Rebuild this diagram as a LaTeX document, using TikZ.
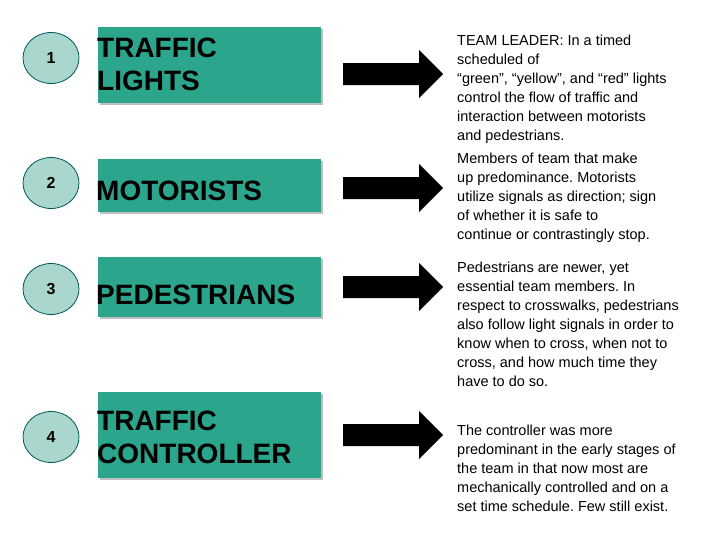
\documentclass[tikz,border=0pt]{standalone}
\usepackage{fontspec}
\setmainfont{Liberation Sans}
\usetikzlibrary{shapes.geometric}
\frenchspacing
\begin{document}
\begin{tikzpicture}[x=1pt,y=-1pt,
  num/.style={ellipse,draw=teal!70!black,fill=numfill,line width=0.8pt,minimum width=56pt,minimum height=51pt,inner sep=0pt,font=\fontsize{16}{18}\selectfont\bfseries},
  lbl/.style={anchor=west,align=left,inner sep=0pt,font=\fontsize{28}{33}\selectfont\bfseries},
  desc/.style={anchor=north west,align=left,inner sep=0pt,font=\frenchspacing\fontsize{14.5}{19}\selectfont},
  arr/.style={fill=black}]
\definecolor{numfill}{HTML}{A9D6CD}
\definecolor{blkfill}{HTML}{2CA58D}
\useasboundingbox (0,0) rectangle (728,546);
% circles
\node[num] (c1) at (51,58) {1};
\node[num] (c2) at (51,183) {2};
\node[num] (c3) at (51,289) {3};
\node[num] (c4) at (51,437) {4};
% blocks
\foreach \n/\t/\b in {1/27/103,2/159/212,3/257/317,4/392/478}{
  \fill[black!25] (100,\t+2) rectangle (323,\b+2);
  \fill[blkfill] (98,\t) rectangle (321,\b);
}
\node[lbl] (l1) at (97,64) {TRAFFIC\\LIGHTS};
\node[lbl] (l2) at (96,191) {MOTORISTS};
\node[lbl] (l3) at (96,295) {PEDESTRIANS};
\node[lbl] (l4) at (97,437) {TRAFFIC\\CONTROLLER};
% arrows
\foreach \y in {74,188,287,435}{
  \fill[arr] (343,\y-11) -- (419,\y-11) -- (419,\y-24) -- (443,\y) -- (419,\y+24) -- (419,\y+11) -- (343,\y+11) -- cycle;
}
% descriptions
\node[desc] (d1) at (457,35) {TEAM LEADER: In a timed\\scheduled of\\“green”, “yellow”, and “red” lights\\control the flow of traffic and\\interaction between motorists\\and pedestrians.};
\node[desc] (d2) at (457,153) {Members of team that make\\up predominance. Motorists\\utilize signals as direction; sign\\of whether it is safe to\\continue or contrastingly stop.};
\node[desc] (d3) at (457,262) {Pedestrians are newer, yet\\essential team members. In\\respect to crosswalks, pedestrians\\also follow light signals in order to\\know when to cross, when not to\\cross, and how much time they\\have to do so.};
\node[desc] (d4) at (457,425) {The controller was more\\predominant in the early stages of\\the team in that now most are\\mechanically controlled and on a\\set time schedule. Few still exist.};
\end{tikzpicture}
\end{document}
